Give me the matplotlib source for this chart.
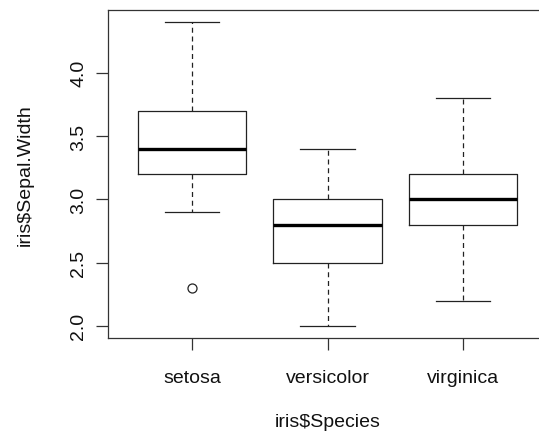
import matplotlib
matplotlib.use("Agg")
import matplotlib.pyplot as plt

plt.rcParams['font.family'] = ['Liberation Sans', 'DejaVu Sans']

species = ['setosa', 'versicolor', 'virginica']
whisker_lo = [2.9, 2.0, 2.2]
q1 = [3.2, 2.5, 2.8]
median = [3.4, 2.8, 3.0]
q3 = [3.7, 3.0, 3.2]
whisker_hi = [4.4, 3.4, 3.8]
outliers = [[2.3], [], []]
yticks = [2.0, 2.5, 3.0, 3.5, 4.0]

W, H = 539, 439
fig = plt.figure(figsize=(W / 100, H / 100), dpi=100)
# plot region in pixels (right edge of the frame falls outside the image)
left, right, top, bottom = 108, 547, 11, 339
ax = fig.add_axes([left / W, 1 - bottom / H, (right - left) / W, (bottom - top) / H])

stats = []
for i, name in enumerate(species):
    stats.append(dict(label=name, whislo=whisker_lo[i], q1=q1[i], med=median[i],
                      q3=q3[i], whishi=whisker_hi[i], fliers=outliers[i]))

col = '#222222'
ax.bxp(stats, positions=[1, 2, 3], widths=0.8,
       boxprops=dict(color=col, linewidth=0.9),
       whiskerprops=dict(color=col, linewidth=0.9, linestyle=(0, (4, 3))),
       capprops=dict(color=col, linewidth=0.9),
       medianprops=dict(color='black', linewidth=2.4, solid_capstyle='butt'),
       flierprops=dict(marker='o', markerfacecolor='none', markeredgecolor=col,
                       markersize=6.5, markeredgewidth=0.9),
       capwidths=0.4)

ymin, ymax = 2.0, 4.4
pad = (ymax - ymin) * 0.04
ax.set_ylim(ymin - pad, ymax + pad)
ax.set_xlim(0.5 - 0.12, 3.5 + 0.12)

ax.set_yticks(yticks)
ax.set_yticklabels([f'{v:.1f}' for v in yticks], rotation=90, va='center')
ax.set_xticks([1, 2, 3])
ax.set_xticklabels(species)

for s in ax.spines.values():
    s.set_color('#333333')
    s.set_linewidth(0.9)

ax.tick_params(axis='both', direction='out', length=8.5, width=0.9,
               color='#333333', labelsize=14, labelcolor='#111111')
ax.tick_params(axis='y', pad=6.5)
ax.tick_params(axis='x', pad=14)

ax.set_xlabel('iris$Species', fontsize=14, color='#111111')
ax.set_ylabel('iris$Sepal.Width', fontsize=14, color='#111111')
ax.xaxis.label.set_va('center')
ax.yaxis.label.set_va('center')
ax.xaxis.set_label_coords(0.5, (bottom - 423) / (bottom - top))
ax.yaxis.set_label_coords((25 - left) / (right - left), 0.5)

fig.savefig('out.png', dpi=100)
